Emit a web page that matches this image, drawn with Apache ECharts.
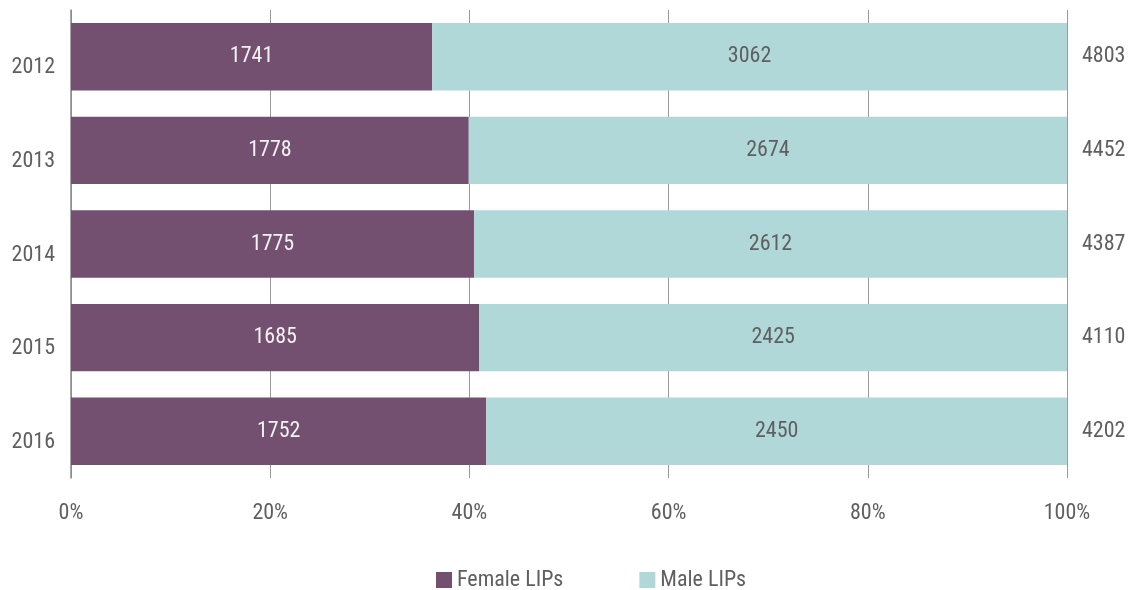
<!DOCTYPE html>
<html><head><meta charset="utf-8">
<script src="https://cdn.jsdelivr.net/npm/echarts@6/dist/echarts.min.js"></script>
<style>html,body{margin:0;padding:0;background:#fff}#c{width:1129px;height:590px}</style>
</head><body><div id="c"></div>
<script>
const years = ['2012','2013','2014','2015','2016'];
const female = [1741, 1778, 1775, 1685, 1752];
const male = [3062, 2674, 2612, 2425, 2450];
const totals = [4803, 4452, 4387, 4110, 4202];
const xTicks = ['0%','20%','40%','60%','80%','100%'];

const FONT = '"Liberation Sans Narrow","Roboto Condensed","Roboto",sans-serif';
const TXT = '#5f5f5f';
const femPct = female.map((v,i)=>v/totals[i]*100);
const malePct = male.map((v,i)=>v/totals[i]*100);

const chart = echarts.init(document.getElementById('c'));
chart.setOption({
  animation:false,
  textStyle:{fontFamily:FONT},
  grid:{left:71,right:62,top:10,bottom:112,containLabel:false},
  legend:{
    top:564, left:431, itemWidth:16, itemHeight:16, itemGap:76,
    icon:'rect',
    textStyle:{fontFamily:FONT,fontSize:22,color:TXT},
    data:['Female LIPs','Male LIPs']
  },
  xAxis:{
    type:'value', min:0, max:100, interval:20,
    axisLine:{show:false}, axisTick:{show:false},
    splitLine:{show:true,lineStyle:{color:'#9a9a9a',width:1}},
    axisLabel:{margin:24,fontFamily:FONT,fontSize:22,color:TXT,
      formatter:(v)=>xTicks[Math.round(v/20)]}
  },
  yAxis:[{
    type:'category', data:years, inverse:true,
    axisLine:{show:true,lineStyle:{color:'#8a8a8a',width:1.5}}, axisTick:{show:false},
    axisLabel:{margin:16,fontFamily:FONT,fontSize:22,color:TXT,verticalAlign:'top',lineHeight:22}
  },{
    type:'category', data:totals.map(String), inverse:true, position:'right',
    axisLine:{show:false}, axisTick:{show:false},
    axisLabel:{margin:15,fontFamily:FONT,fontSize:22,color:TXT,align:'left'}
  }],
  series:[{
    name:'Female LIPs', type:'bar', stack:'a', barCategoryGap:'28%',
    data:femPct, itemStyle:{color:'#735070'},
    label:{show:true,position:'inside',fontFamily:FONT,fontSize:22,color:'#f2f2f2',
      formatter:(p)=>String(female[p.dataIndex])}
  },{
    name:'Male LIPs', type:'bar', stack:'a',
    data:malePct, itemStyle:{color:'#b0d8d8'},
    label:{show:true,position:'inside',fontFamily:FONT,fontSize:22,color:'#5f5f5f',
      formatter:(p)=>String(male[p.dataIndex])}
  }]
});
</script></body></html>
